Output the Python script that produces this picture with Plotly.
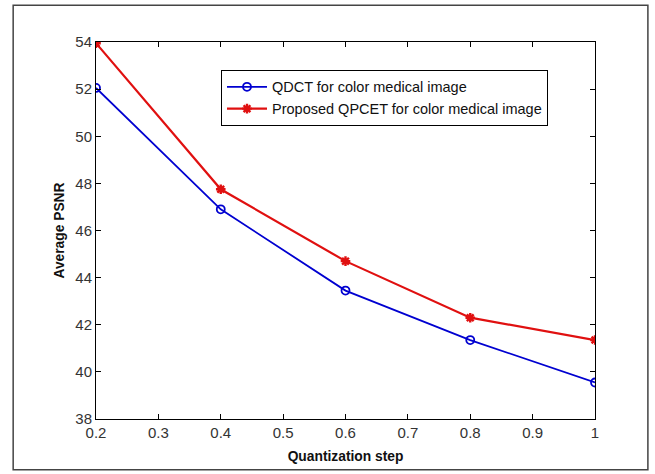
import plotly.graph_objects as go

steps = [0.2, 0.4, 0.6, 0.8, 1.0]
qdct = [52.05, 46.9, 43.45, 41.35, 39.55]
qpcet = [53.95, 47.75, 44.7, 42.3, 41.35]
x_ticks = [0.2, 0.3, 0.4, 0.5, 0.6, 0.7, 0.8, 0.9, 1.0]
x_ticklabels = ["0.2", "0.3", "0.4", "0.5", "0.6", "0.7", "0.8", "0.9", "1"]
y_ticks = [38, 40, 42, 44, 46, 48, 50, 52, 54]

font = "Liberation Sans, Arial, sans-serif"

fig = go.Figure()
fig.add_trace(go.Scatter(
    x=steps, y=qdct, mode="lines+markers",
    name="QDCT for color medical image",
    line=dict(color="#0000D0", width=1.8),
    marker=dict(symbol="circle-open", size=8, color="#0000D0", line=dict(width=1.8)),
))
fig.add_trace(go.Scatter(
    x=steps, y=qpcet, mode="lines+markers",
    name="Proposed QPCET for color medical image",
    line=dict(color="#E01010", width=2.2),
    marker=dict(symbol="asterisk-open", size=8, color="#E01010", line=dict(width=2.4, color="#E01010")),
))

axis_common = dict(
    showline=True, linecolor="black", linewidth=1, mirror="ticks",
    ticks="inside", ticklen=5, tickcolor="black", showgrid=False, zeroline=False,
    tickfont=dict(family=font, size=15, color="#333"),
)
fig.update_xaxes(range=[0.2, 1.0], tickvals=x_ticks, ticktext=x_ticklabels,
                 title=dict(text="<b>Quantization step</b>", font=dict(family=font, size=13.8, color="#111"), standoff=11),
                 **axis_common)
fig.update_yaxes(range=[38, 54], tickvals=y_ticks,
                 title=dict(text="<b>Average PSNR</b>", font=dict(family=font, size=13.8, color="#111"), standoff=7),
                 **axis_common)

fig.add_shape(type="rect", xref="paper", yref="paper",
              x0=-0.166, x1=1.106, y0=-0.1346, y1=1.0976,
              line=dict(color="#444", width=1.5), fillcolor="rgba(0,0,0,0)", layer="below")

fig.update_layout(
    width=655, height=474,
    margin=dict(l=96, r=60, t=42, b=53),
    plot_bgcolor="white", paper_bgcolor="white",
    font=dict(family=font, size=12, color="#111"),
    legend=dict(x=0.2505, y=0.926, xanchor="left", yanchor="top",
                bordercolor="black", borderwidth=1, bgcolor="white",
                font=dict(family=font, size=14.5, color="#111"),
                tracegroupgap=0, itemwidth=40),
    showlegend=True,
)

fig.write_html("out.html", config={"displayModeBar": False},
               post_script="document.body.style.margin='0';document.body.style.overflow='hidden';")
